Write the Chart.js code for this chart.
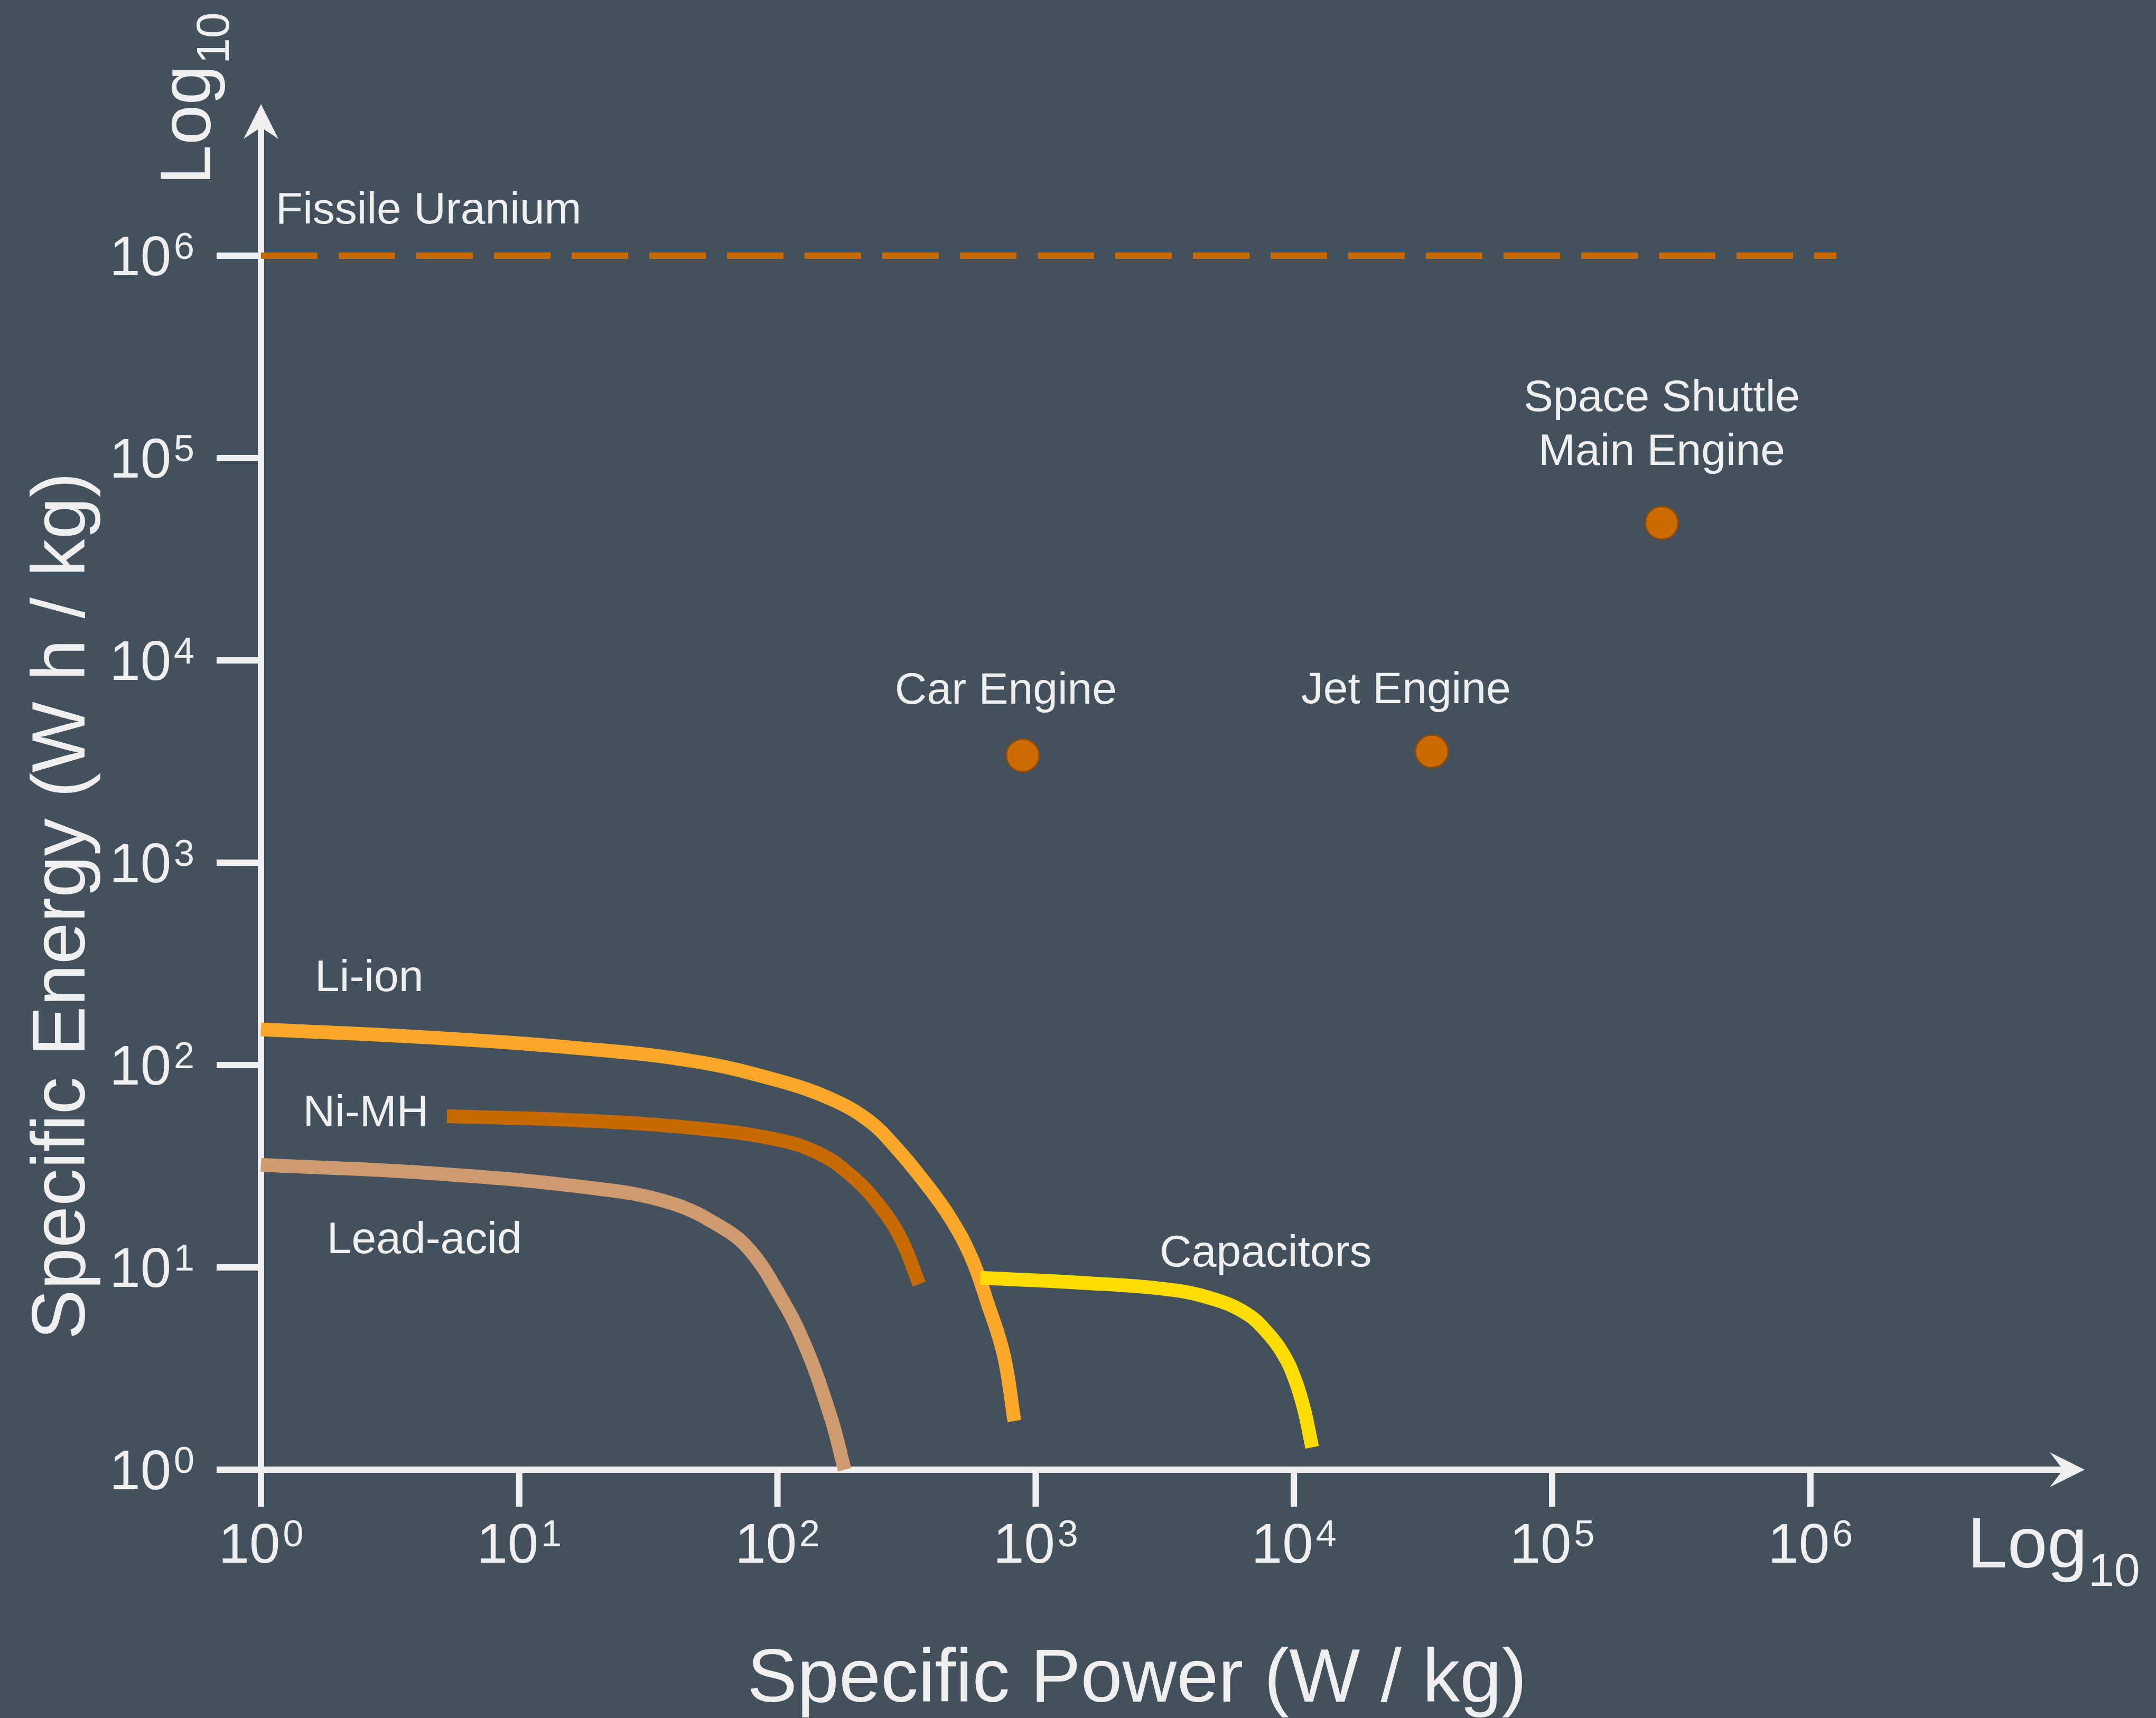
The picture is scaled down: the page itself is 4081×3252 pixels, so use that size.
<!DOCTYPE html>
<html>
<head>
<meta charset="utf-8">
<script src="https://cdn.jsdelivr.net/npm/chart.js@4.4.1/dist/chart.umd.min.js"></script>
<style>
  html, body { margin: 0; padding: 0; background: #42515c; overflow: hidden; }
  canvas { display: block; }
</style>
</head>
<body>
<canvas id="ragone" width="4081" height="3252"></canvas>
<script>
// Specific power (W/kg) and specific energy (Wh/kg) along each storage curve
const liIonPower    = [1, 4.4, 18.5, 48.5, 100, 161, 226, 288, 366, 465, 565, 650, 752, 827];
const liIonEnergy   = [150, 137, 120, 104, 84, 68, 53, 39, 27, 17.7, 11.1, 6.7, 3.7, 1.74];

const niMhPower     = [5.25, 18.5, 48.5, 100, 147, 195, 249, 302, 354];
const niMhEnergy    = [55.9, 53, 48.7, 42.8, 36.2, 28.1, 20.1, 13.7, 8.27];

const leadAcidPower  = [1, 4.4, 18.5, 38.2, 61.7, 78.4, 100, 127, 161, 182];
const leadAcidEnergy = [32.1, 29.3, 24.8, 20.9, 15.6, 12.1, 7.6, 4.2, 1.81, 1.0];

const capacitorPower  = [611, 1480, 3340, 5010, 6560, 7730, 9100, 10140, 10990, 11760];
const capacitorEnergy = [8.88, 8.4, 7.75, 6.9, 5.9, 4.9, 3.72, 2.75, 1.95, 1.29];

const uraniumPower  = [1, 1.26e6];
const uraniumEnergy = [1e6, 1e6];

const engineNames  = ['Car Engine', 'Jet Engine', 'Space Shuttle\nMain Engine'];
const enginePower  = [891, 34200, 265800];
const engineEnergy = [3390, 3550, 47800];

// Decade ticks shared by both axes
const tickValues    = [1, 10, 100, 1000, 1e4, 1e5, 1e6];
const tickExponents = ['0', '1', '2', '3', '4', '5', '6'];

// Curve captions, anchored in data space (left edge, baseline)
const curveCaptions = [
  { text: 'Fissile Uranium', power: 1.14, energy: 1.44e6 },
  { text: 'Li-ion',          power: 1.617, energy: 232 },
  { text: 'Ni-MH',           power: 1.454, energy: 49.8 },
  { text: 'Lead-acid',       power: 1.80,  energy: 11.77 },
  { text: 'Capacitors',      power: 3020,  energy: 10.1 }
];

const pts = (xs, ys) => xs.map((x, i) => ({ x: x, y: ys[i] }));

const FONT = '"Liberation Sans", Arial, Helvetica, sans-serif';
const INK = '#efefef';
const BG = '#42515c';

// Label offsets (pixels) of each engine caption relative to its dot
const engineCaptionOffset = [
  { dx: -32, dy: -98 },
  { dx: -49, dy: -91 },
  { dx: 0,   dy: -212 }
];

function drawPower(ctx, exp, x, baseline, align) {
  ctx.font = '105px ' + FONT;
  const wb = ctx.measureText('10').width;
  ctx.font = '70px ' + FONT;
  const we = ctx.measureText(exp).width;
  const gap = 5;
  const total = wb + gap + we;
  let start = align === 'center' ? x - total / 2 : x - total;
  ctx.textAlign = 'left';
  ctx.textBaseline = 'alphabetic';
  ctx.font = '105px ' + FONT;
  ctx.fillText('10', start, baseline);
  ctx.font = '70px ' + FONT;
  ctx.fillText(exp, start + wb + gap, baseline - 31);
}

function drawLog10(ctx, x, y) {
  ctx.textAlign = 'left';
  ctx.textBaseline = 'alphabetic';
  ctx.font = '136px ' + FONT;
  ctx.fillText('Log', x, y);
  const w = ctx.measureText('Log').width;
  ctx.font = '88px ' + FONT;
  ctx.fillText('10', x + w + 2, y + 35);
}

const axesPlugin = {
  id: 'axesPlugin',
  beforeDraw(chart) {
    const ctx = chart.ctx;
    ctx.save();
    ctx.fillStyle = BG;
    ctx.fillRect(0, 0, chart.width, chart.height);
    ctx.restore();
  },
  beforeDatasetsDraw(chart) {
    const ctx = chart.ctx;
    const xs = chart.scales.x, ys = chart.scales.y;
    const ox = xs.getPixelForValue(1);
    const oy = ys.getPixelForValue(1);
    ctx.save();
    ctx.strokeStyle = INK;
    ctx.fillStyle = INK;
    ctx.lineWidth = 12;
    ctx.lineCap = 'butt';

    // axis lines
    ctx.beginPath();
    ctx.moveTo(ox - 6, oy);
    ctx.lineTo(3905, oy);
    ctx.moveTo(ox, oy + 70);
    ctx.lineTo(ox, 241);
    ctx.stroke();

    // ticks
    ctx.beginPath();
    tickValues.forEach(v => {
      const px = xs.getPixelForValue(v);
      ctx.moveTo(px, oy);
      ctx.lineTo(px, oy + 70);
      const py = ys.getPixelForValue(v);
      ctx.moveTo(410, py);
      ctx.lineTo(ox, py);
    });
    ctx.stroke();

    // arrow heads
    ctx.beginPath();
    ctx.moveTo(3946, oy);
    ctx.lineTo(3880, oy - 33);
    ctx.lineTo(3905, oy);
    ctx.lineTo(3880, oy + 33);
    ctx.closePath();
    ctx.fill();
    ctx.beginPath();
    ctx.moveTo(ox, 197);
    ctx.lineTo(ox - 33, 263);
    ctx.lineTo(ox, 241);
    ctx.lineTo(ox + 33, 263);
    ctx.closePath();
    ctx.fill();

    // tick labels
    tickValues.forEach((v, i) => {
      drawPower(ctx, tickExponents[i], xs.getPixelForValue(v), 2958, 'center');
      drawPower(ctx, tickExponents[i], 368, ys.getPixelForValue(v) + 37, 'right');
    });

    // axis titles
    ctx.font = '142px ' + FONT;
    ctx.textAlign = 'center';
    ctx.textBaseline = 'alphabetic';
    ctx.fillText('Specific Power (W / kg)', 2152, 3221);
    ctx.save();
    ctx.translate(160, 1715);
    ctx.rotate(-Math.PI / 2);
    ctx.fillText('Specific Energy (W h / kg)', 0, 0);
    ctx.restore();

    // log10 markers at the axis ends
    drawLog10(ctx, 3724, 2967);
    ctx.save();
    ctx.translate(398, 350);
    ctx.rotate(-Math.PI / 2);
    drawLog10(ctx, 0, 0);
    ctx.restore();

    ctx.restore();
  },
  afterDatasetsDraw(chart) {
    const ctx = chart.ctx;
    const xs = chart.scales.x, ys = chart.scales.y;
    ctx.save();
    ctx.fillStyle = INK;
    ctx.font = '84px ' + FONT;
    ctx.textBaseline = 'alphabetic';
    ctx.textAlign = 'left';
    curveCaptions.forEach(c => {
      ctx.fillText(c.text, xs.getPixelForValue(c.power), ys.getPixelForValue(c.energy));
    });
    ctx.textAlign = 'center';
    engineNames.forEach((name, i) => {
      const px = xs.getPixelForValue(enginePower[i]) + engineCaptionOffset[i].dx;
      const py = ys.getPixelForValue(engineEnergy[i]) + engineCaptionOffset[i].dy;
      name.split('\n').forEach((line, j) => ctx.fillText(line, px, py + j * 102));
    });
    ctx.restore();
  }
};

const lineDefaults = {
  showLine: true,
  pointRadius: 0,
  borderWidth: 26,
  borderCapStyle: 'butt',
  borderJoinStyle: 'round',
  tension: 0.4,
  fill: false,
  clip: false
};

new Chart(document.getElementById('ragone'), {
  type: 'scatter',
  data: {
    datasets: [
      Object.assign({}, lineDefaults, {
        label: 'Fissile Uranium', data: pts(uraniumPower, uraniumEnergy),
        borderColor: '#c96a00', borderWidth: 12, borderDash: [107, 40],
        tension: 0, order: 6
      }),
      Object.assign({}, lineDefaults, {
        label: 'Lead-acid', data: pts(leadAcidPower, leadAcidEnergy),
        borderColor: '#ce9b6e', order: 4
      }),
      Object.assign({}, lineDefaults, {
        label: 'Ni-MH', data: pts(niMhPower, niMhEnergy),
        borderColor: '#c96a00', order: 3
      }),
      Object.assign({}, lineDefaults, {
        label: 'Li-ion', data: pts(liIonPower, liIonEnergy),
        borderColor: '#fba727', order: 2
      }),
      Object.assign({}, lineDefaults, {
        label: 'Capacitors', data: pts(capacitorPower, capacitorEnergy),
        borderColor: '#ffdd00', order: 1
      }),
      {
        label: 'Engines', data: pts(enginePower, engineEnergy),
        pointRadius: 31, pointBorderWidth: 3,
        pointBackgroundColor: '#cc6c00', pointBorderColor: '#8e4b0b',
        showLine: false, clip: false, order: 0
      }
    ]
  },
  options: {
    responsive: false,
    devicePixelRatio: 1,
    animation: false,
    events: [],
    layout: { padding: { left: 494, right: 165.4, top: 101, bottom: 470 } },
    plugins: { legend: { display: false }, tooltip: { enabled: false } },
    scales: {
      x: { type: 'logarithmic', min: 1, max: 1e7, display: false },
      y: { type: 'logarithmic', min: 1, max: 1e7, display: false }
    }
  },
  plugins: [axesPlugin]
});
</script>
</body>
</html>
